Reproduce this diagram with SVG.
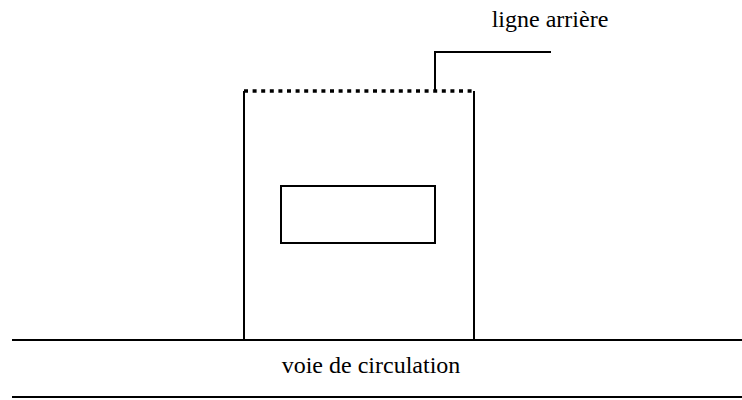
<svg xmlns="http://www.w3.org/2000/svg" width="742" height="400" viewBox="0 0 742 400">
<style>
.ln{stroke:#000;stroke-width:2;fill:none}
.t{font-family:"Liberation Serif","Times New Roman",serif;font-size:24px;fill:#000}
</style>
<rect width="742" height="400" fill="#fff"/>
<g id="building">
<path class="ln" d="M244,91 V341 M474,91 V341"/>
<line x1="244" y1="91" x2="474" y2="91" stroke="#000" stroke-width="3.5" stroke-dasharray="4 4.6"/>
</g>
<g id="window">
<rect class="ln" x="281" y="186" width="154" height="57"/>
</g>
<g id="connectors">
<path class="ln" d="M435,91 V52 H551"/>
</g>
<g id="road">
<line class="ln" x1="12" y1="340" x2="742" y2="340"/>
<line class="ln" x1="12" y1="397" x2="742" y2="397"/>
<text class="t" x="371" y="373" text-anchor="middle">voie de circulation</text>
</g>
<g id="label">
<text class="t" x="550" y="27" text-anchor="middle">ligne arrière</text>
</g>
</svg>
